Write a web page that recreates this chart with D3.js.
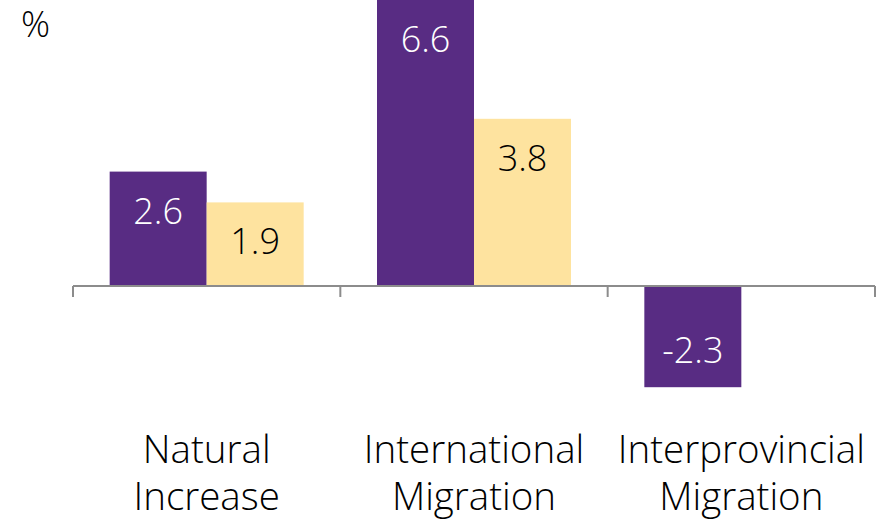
<!DOCTYPE html>
<html>
<head>
<meta charset="utf-8">
<script src="https://cdn.jsdelivr.net/npm/d3@7"></script>
<style>
  body { margin: 0; background: #fff; }
  text { font-family: "Open Sans", sans-serif; font-weight: 300; }
</style>
</head>
<body>
<script>
const categories = [
  ['Natural', 'Increase'],
  ['International', 'Migration'],
  ['Interprovincial', 'Migration'],
];
const seriesNames = ['Series 1', 'Series 2'];
const series1 = [2.6, 6.6, -2.3];
const series2 = [1.9, 3.8, null];

const colours = ['#582c83', '#fee39f'];
const labelColours = ['#ffffff', '#000000'];

const svg = d3.select('body')
  .append('svg')
  .attr('width', 887)
  .attr('height', 521);

const x = d3.scaleBand()
  .domain(d3.range(categories.length))
  .range([73, 875]);

const xSub = d3.scaleBand()
  .domain(seriesNames)
  .range([0, x.bandwidth()])
  .paddingOuter(0.378);

const yMax = 6.5;
const y = d3.scaleLinear()
  .domain([-4, yMax])
  .range([462, 0]);

svg.append('defs').append('clipPath')
  .attr('id', 'plot')
  .append('rect')
  .attr('x', 0)
  .attr('y', y(yMax))
  .attr('width', 887)
  .attr('height', 521);

const rows = [];
categories.forEach((c, i) => {
  [series1, series2].forEach((s, j) => {
    if (s[i] !== null) rows.push({ cat: i, ser: j, value: s[i] });
  });
});

const g = svg.append('g').attr('clip-path', 'url(#plot)');

g.selectAll('.bar')
  .data(rows)
  .enter()
    .append('rect')
    .attr('class', 'bar')
    .attr('x', d => x(d.cat) + xSub(seriesNames[d.ser]))
    .attr('y', d => y(Math.max(0, d.value)))
    .attr('width', xSub.bandwidth())
    .attr('height', d => Math.abs(y(d.value) - y(0)))
    .attr('fill', d => colours[d.ser]);

svg.selectAll('.value')
  .data(rows)
  .enter()
    .append('text')
    .attr('class', 'value')
    .attr('x', d => x(d.cat) + xSub(seriesNames[d.ser]) + xSub.bandwidth() / 2)
    .attr('y', d => d.value >= 0
      ? y(Math.min(d.value, yMax)) + 52
      : y(d.value) - 24)
    .attr('text-anchor', 'middle')
    .attr('font-size', 36)
    .attr('fill', d => labelColours[d.ser])
    .text(d => d.value.toFixed(1));

// category axis along zero
const axis = svg.append('g').attr('stroke', '#8c8c8c').attr('stroke-width', 2);
axis.append('line')
  .attr('x1', x.range()[0])
  .attr('x2', x.range()[1])
  .attr('y1', y(0))
  .attr('y2', y(0));
axis.selectAll('.tick')
  .data(d3.range(categories.length + 1))
  .enter()
    .append('line')
    .attr('x1', i => x.range()[0] + i * x.step())
    .attr('x2', i => x.range()[0] + i * x.step())
    .attr('y1', y(0))
    .attr('y2', y(0) + 11);

const labels = svg.selectAll('.cat')
  .data(categories)
  .enter()
    .append('text')
    .attr('class', 'cat')
    .attr('text-anchor', 'middle')
    .attr('font-size', 38.5)
    .attr('fill', '#000');
labels.selectAll('tspan')
  .data((d, i) => d.map(t => ({ t, i })))
  .enter()
    .append('tspan')
    .attr('x', d => x(d.i) + x.bandwidth() / 2)
    .attr('y', (d, k) => 463 + k * 47)
    .text(d => d.t);

svg.append('text')
  .attr('x', 21)
  .attr('y', 37)
  .attr('font-size', 36)
  .text('%');
</script>
</body>
</html>
